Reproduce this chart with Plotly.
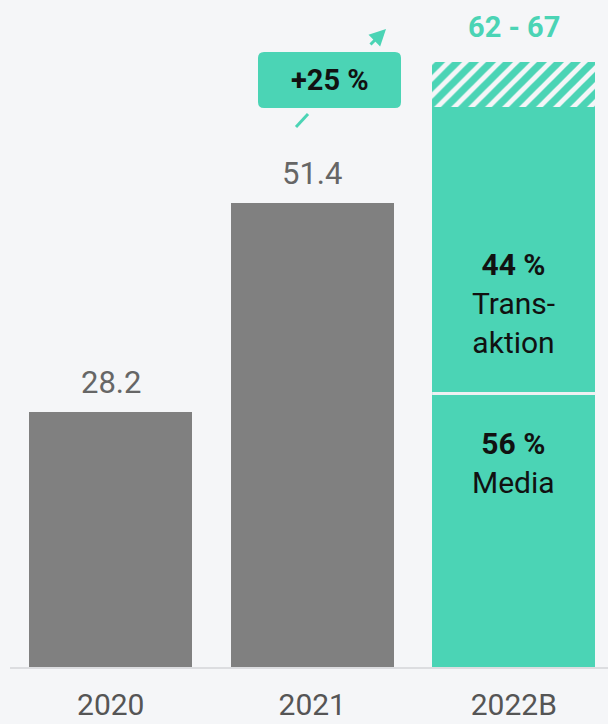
import plotly.graph_objects as go

categories = ["2020", "2021", "2022B"]
actual_values = [28.2, 51.4]
media_value = 30.3
transaktion_value = 31.7
range_low = 62
range_high = 67
value_labels = ["28.2", "51.4"]
range_label = "62 - 67"
growth_label = "+25 %"
media_label = "<b>56 %</b><br>Media"
trans_label = "<b>44 %</b><br>Trans-<br>aktion"

BG = "#F5F6F8"
TEAL = "#4BD4B5"
GRAY = "#808080"
FONT = "Roboto"

W, H = 608, 724
ML, MR, MT, MB = 10, 0, 0, 57
PW, PH = W - ML - MR, H - MT - MB
SPACING = 201.5  # px per category
YMAX = 73.9
BARGAP = 0.19
half_bar = (1 - BARGAP) / 2

fig = go.Figure()
fig.add_bar(x=categories[:2], y=actual_values, marker=dict(color=GRAY, line=dict(width=0)),
            hoverinfo="skip")
fig.add_bar(x=[categories[2]], y=[media_value], marker=dict(color=TEAL, line=dict(width=0)),
            hoverinfo="skip")
fig.add_bar(x=[categories[2]], y=[transaktion_value], marker=dict(color=TEAL, line=dict(width=0)),
            hoverinfo="skip")
fig.add_bar(x=[categories[2]], y=[range_high - range_low],
            marker=dict(color=BG, line=dict(width=0),
                        pattern=dict(shape="/", fgcolor=TEAL, bgcolor=BG, size=12,
                                     solidity=0.6, fgopacity=1)),
            hoverinfo="skip")

annotations = []
for i, (v, t) in enumerate(zip(actual_values, value_labels)):
    annotations.append(dict(x=i, y=v, text=t, showarrow=False, yanchor="bottom", yshift=9,
                            xanchor="center",
                            font=dict(family=FONT, size=31, color="#666666")))
annotations.append(dict(x=2, y=range_high, text="<b>" + range_label + "</b>",
                        showarrow=False, yanchor="bottom", yshift=16, xanchor="center",
                        font=dict(family=FONT, size=29, color=TEAL)))
annotations.append(dict(x=2, y=40.3, text=trans_label, showarrow=False,
                        xanchor="center", yanchor="middle",
                        font=dict(family=FONT, size=30, color="#111111")))
annotations.append(dict(x=2, y=22.6, text=media_label, showarrow=False,
                        xanchor="center", yanchor="middle",
                        font=dict(family=FONT, size=30, color="#111111")))


def px_to_paper(px, py):
    return (px - ML) / PW, (H - MB - py) / PH


# upper arrow segment with head
hx, hy = px_to_paper(386, 29)
annotations.append(dict(x=hx, y=hy, xref="paper", yref="paper", ax=-17, ay=17,
                        axref="pixel", ayref="pixel", showarrow=True, arrowhead=2,
                        arrowsize=1.1, arrowwidth=3, arrowcolor=TEAL, text=""))
# growth label text
gx, gy = px_to_paper(329.5, 80)
annotations.append(dict(x=gx, y=gy, xref="paper", yref="paper", text="<b>" + growth_label + "</b>",
                        xanchor="center", yanchor="middle", showarrow=False,
                        font=dict(family=FONT, size=29, color="#111111")))

shapes = []
# lower tail segment of arrow
t0x, t0y = px_to_paper(296, 127)
t1x, t1y = px_to_paper(308, 114)
shapes.append(dict(type="line", xref="paper", yref="paper", x0=t0x, y0=t0y, x1=t1x, y1=t1y,
                   line=dict(color=TEAL, width=3), layer="above"))
# rounded box
hw, hh, r = 71.5, 28, 6
path = (f"M {-hw + r},{-hh} L {hw - r},{-hh} Q {hw},{-hh} {hw},{-hh + r} "
        f"L {hw},{hh - r} Q {hw},{hh} {hw - r},{hh} L {-hw + r},{hh} "
        f"Q {-hw},{hh} {-hw},{hh - r} L {-hw},{-hh + r} Q {-hw},{-hh} {-hw + r},{-hh} Z")
shapes.append(dict(type="path", xref="paper", yref="paper", xsizemode="pixel", ysizemode="pixel",
                   xanchor=gx, yanchor=gy, path=path, fillcolor=TEAL, line=dict(width=0),
                   layer="above"))
# separator between the two segments
shapes.append(dict(type="line", xref="x", yref="y", x0=2 - half_bar, x1=2 + half_bar,
                   y0=media_value, y1=media_value, line=dict(color="#EEF0F2", width=3),
                   layer="above"))

fig.update_layout(
    width=W, height=H, barmode="stack", bargap=BARGAP, showlegend=False,
    paper_bgcolor=BG, plot_bgcolor=BG,
    margin=dict(l=ML, r=MR, t=MT, b=MB, autoexpand=False),
    xaxis=dict(type="category", range=[-0.5, -0.5 + PW / SPACING], showgrid=False,
               showline=True, linecolor="#DCDDE0", linewidth=2, ticks="",
               ticklabelstandoff=10, automargin=False,
               tickfont=dict(family=FONT, size=30, color="#555555")),
    yaxis=dict(range=[0, YMAX], visible=False, fixedrange=True, automargin=False),
    annotations=annotations, shapes=shapes,
)

fig.write_html(
    "out.html",
    config={"displayModeBar": False, "staticPlot": True},
    post_script="document.body.style.margin='0';document.body.style.overflow='hidden';"
                "document.body.style.background='" + BG + "';",
)
